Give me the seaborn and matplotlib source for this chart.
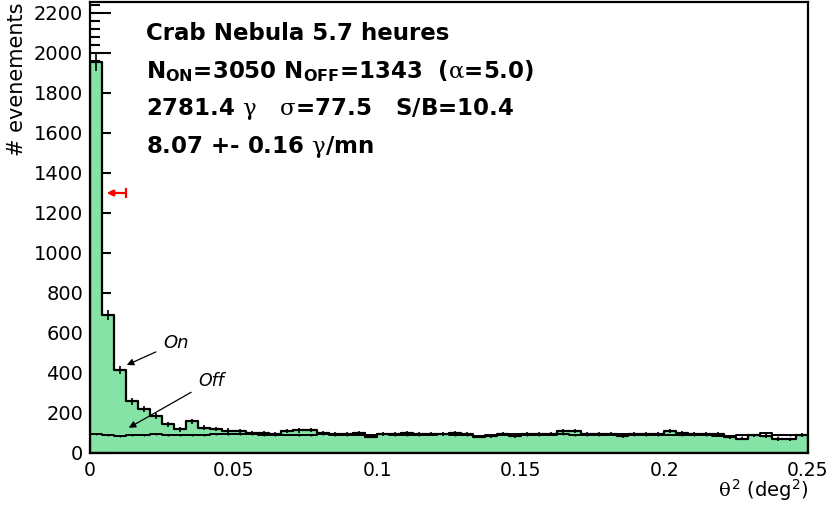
import numpy as np
import pandas as pd
import matplotlib
matplotlib.use("Agg")
import matplotlib.pyplot as plt
import seaborn as sns
from matplotlib.ticker import MultipleLocator, FuncFormatter

# theta^2 distribution, 60 bins between 0 and 0.25 deg^2
theta2_min = 0.0
theta2_max = 0.25
n_bins = 60

on_counts = [1955, 690, 415, 258, 218, 185, 143, 118, 158, 127, 120, 112,
             108, 100, 101, 97, 110, 113, 114, 98, 97, 96, 99, 82,
             97, 95, 99, 96, 97, 95, 99, 96, 82, 85, 97, 86,
             96, 95, 97, 111, 108, 96, 97, 95, 84, 95, 94, 96,
             108, 98, 96, 95, 94, 78, 72, 88, 86, 70, 68, 90]

off_counts = [96, 88, 86, 89, 90, 94, 88, 90, 88, 91, 93, 94,
              95, 96, 88, 90, 92, 89, 91, 94, 88, 90, 92, 92,
              93, 89, 91, 90, 92, 93, 88, 90, 86, 91, 92, 95,
              90, 89, 92, 94, 91, 89, 90, 92, 94, 90, 88, 91,
              92, 89, 90, 88, 87, 84, 89, 92, 100, 90, 91, 88]

alpha_norm = 5.0          # on/off exposure ratio
cut_theta2 = 0.0125       # theta^2 cut (red arrow)
cut_arrow_tip = 0.0058
cut_arrow_y = 1300

info_lines = [
    "Crab Nebula 5.7 heures",
    r"N$_{\mathbf{ON}}$=3050 N$_{\mathbf{OFF}}$=1343  ($\alpha$=5.0)",
    r"2781.4 $\gamma$   $\sigma$=77.5   S/B=10.4",
    r"8.07 +- 0.16 $\gamma$/mn",
]

green = "#86E3A6"

sns.set_style("ticks")
plt.rcParams["font.family"] = ["DejaVu Sans"]
plt.rcParams["text.color"] = "black"
plt.rcParams["axes.labelcolor"] = "black"
plt.rcParams["xtick.color"] = "black"
plt.rcParams["ytick.color"] = "black"
plt.rcParams["mathtext.fontset"] = "custom"
plt.rcParams["mathtext.rm"] = "DejaVu Sans"
plt.rcParams["mathtext.sf"] = "DejaVu Sans"
plt.rcParams["mathtext.it"] = "DejaVu Serif"
plt.rcParams["mathtext.bf"] = "DejaVu Sans:bold"

edges = np.linspace(theta2_min, theta2_max, n_bins + 1)
centers = 0.5 * (edges[:-1] + edges[1:])
df = pd.DataFrame({"theta2": centers, "on": on_counts, "off": off_counts})

fig = plt.figure(figsize=(8.28, 5.08), dpi=100)
ax = fig.add_axes([90 / 828, 55 / 508, 718 / 828, 451 / 508])

# On histogram (filled) and Off histogram (line)
sns.histplot(data=df, x="theta2", weights="on", bins=list(edges), element="step",
             fill=True, facecolor=green, edgecolor="black", linewidth=1.6, ax=ax)
ax.errorbar(df["theta2"], df["on"], yerr=np.sqrt(df["on"]), fmt="none",
            ecolor="black", elinewidth=1.2, capsize=0)
sns.histplot(data=df, x="theta2", weights="off", bins=list(edges), element="step",
             fill=False, color="black", linewidth=1.4, ax=ax)
ax.errorbar(df["theta2"], df["off"], yerr=np.sqrt(df["off"] / alpha_norm), fmt="none",
            ecolor="black", elinewidth=1.0, capsize=0)

ax.set_xlim(theta2_min, theta2_max)
ax.set_ylim(0, 2255)

ax.xaxis.set_major_locator(MultipleLocator(0.05))
ax.xaxis.set_minor_locator(MultipleLocator(0.01))
ax.yaxis.set_major_locator(MultipleLocator(200))
ax.yaxis.set_minor_locator(MultipleLocator(40))
ax.xaxis.set_major_formatter(FuncFormatter(lambda v, p: f"{v:g}"))

ax.tick_params(which="both", direction="in", top=False, right=False, colors="black")
ax.tick_params(axis="y", which="major", length=15, width=1.5, pad=5, labelsize=14)
ax.tick_params(axis="y", which="minor", length=7, width=1.5)
ax.tick_params(axis="x", which="major", length=9.5, width=1.5, pad=6, labelsize=13.5)
ax.tick_params(axis="x", which="minor", length=5, width=1.5)
for s in ax.spines.values():
    s.set_visible(True)
    s.set_linewidth(1.6)
    s.set_color("black")

ax.set_xlabel(r"$\theta^{\mathsf{2}}$ (deg$^{\mathsf{2}}$)", loc="right", fontsize=14)
ax.xaxis.set_label_coords(1.0, -0.055)
ax.set_ylabel("# evenements", loc="top", fontsize=15)
ax.yaxis.set_label_coords(-0.088, 1.0)

# info block
baselines = [0.9157, 0.8315, 0.749, 0.665]
for line, yb in zip(info_lines, baselines):
    ax.text(0.078, yb, line, transform=ax.transAxes, fontsize=16.5,
            fontweight="bold", va="baseline", ha="left")

# On / Off labels
ax.annotate("On", xy=(0.0128, 440), xytext=(0.0254, 550), fontsize=13,
            fontstyle="italic", va="center", ha="left",
            arrowprops=dict(arrowstyle="-|>", color="black", lw=0.9,
                            shrinkA=3, shrinkB=0, mutation_scale=10))
ax.annotate("Off", xy=(0.0135, 126), xytext=(0.0376, 360), fontsize=12.5,
            fontstyle="italic", va="center", ha="left",
            arrowprops=dict(arrowstyle="-|>", color="black", lw=0.9,
                            shrinkA=3, shrinkB=0, mutation_scale=10))

# theta^2 cut marker
ax.annotate("", xy=(cut_arrow_tip, cut_arrow_y), xytext=(cut_theta2, cut_arrow_y),
            arrowprops=dict(arrowstyle="-|>", color="red", lw=1.6,
                            shrinkA=0, shrinkB=0, mutation_scale=9))
ax.vlines(cut_theta2, cut_arrow_y - 25, cut_arrow_y + 25, color="red", lw=1.6)

fig.savefig("out.png", dpi=100)
